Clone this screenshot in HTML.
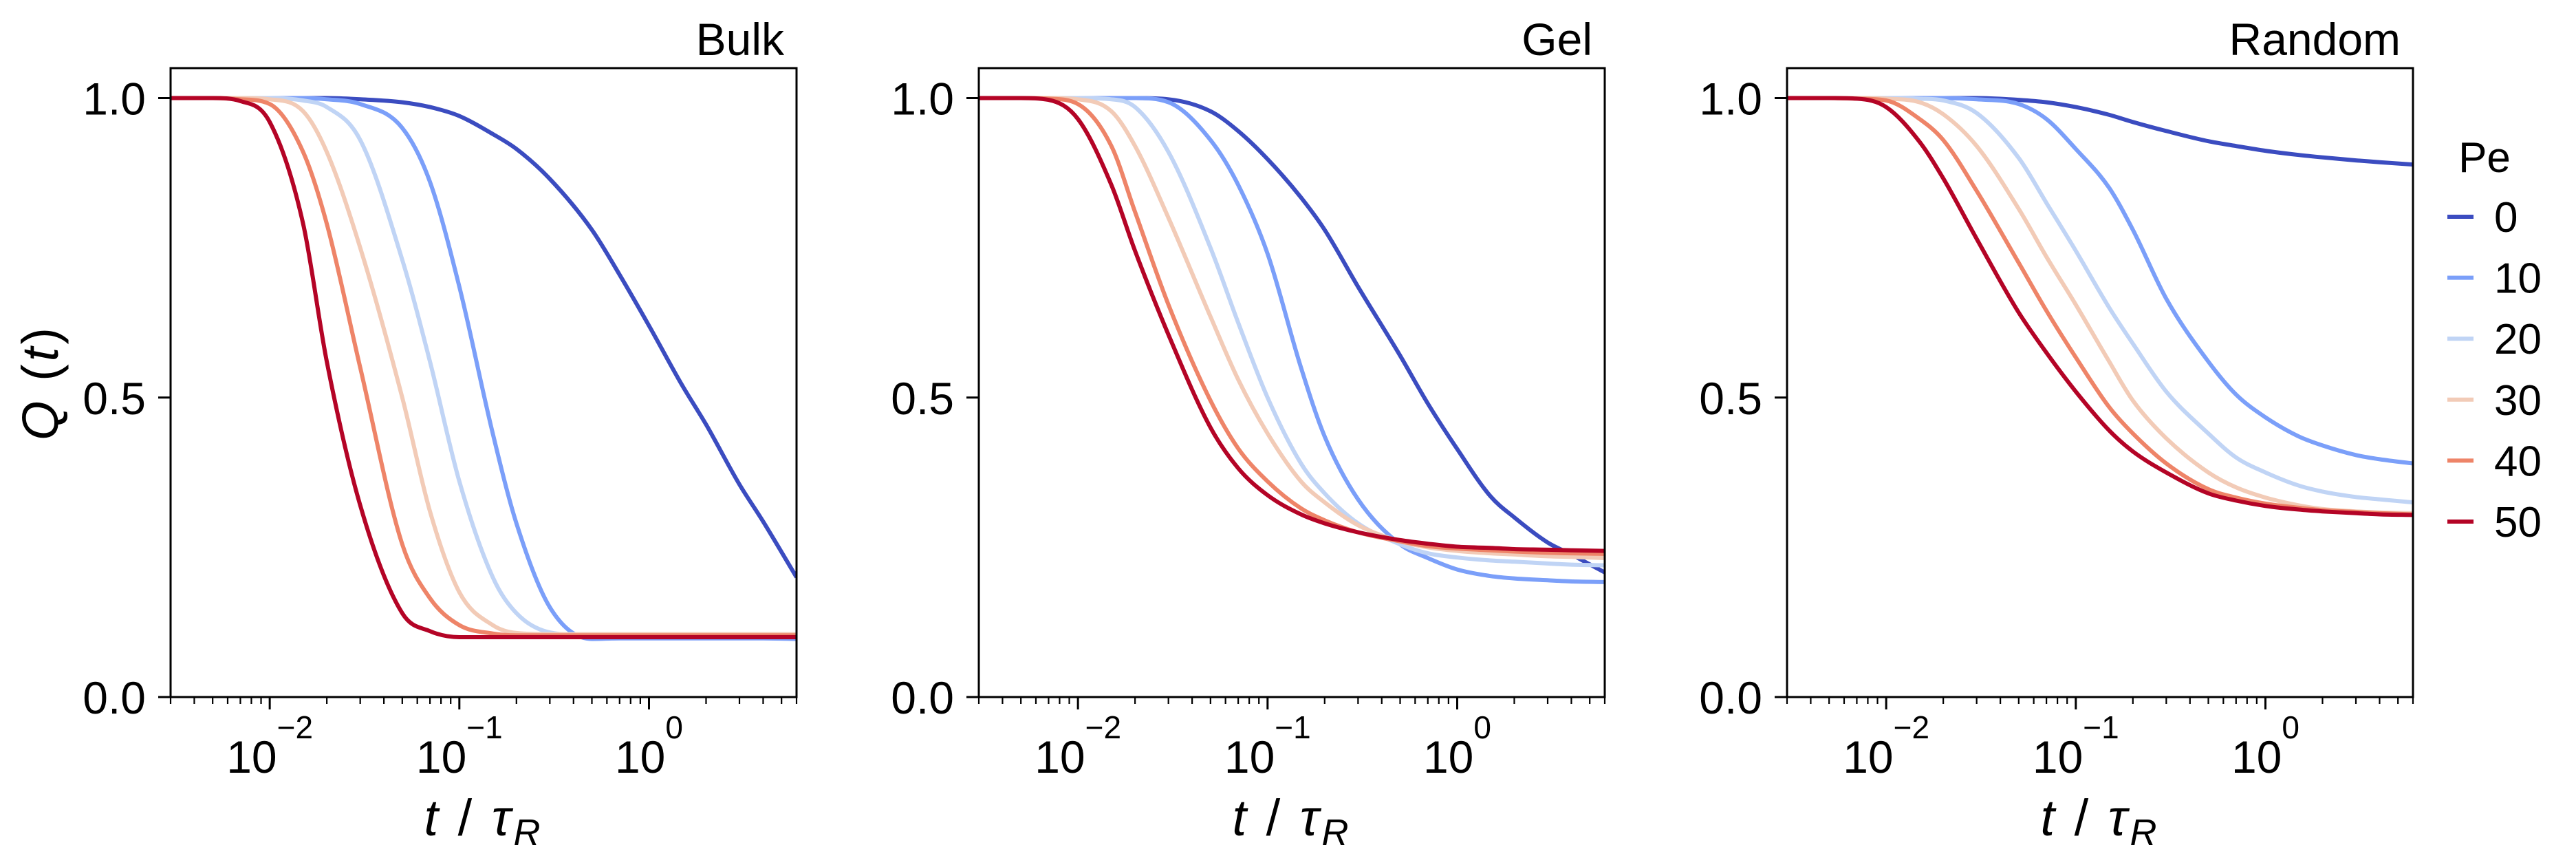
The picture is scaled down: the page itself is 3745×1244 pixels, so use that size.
<!DOCTYPE html>
<html><head><meta charset="utf-8">
<style>
html,body{margin:0;padding:0;background:#fff;}
svg{display:block;font-family:"Liberation Sans",Arial,sans-serif;}
</style></head>
<body>
<svg id="fig" width="3745" height="1244" viewBox="0 0 3745 1244" xmlns="http://www.w3.org/2000/svg"></svg>
<script>
const times = [0.003,0.005,0.007,0.01,0.015,0.02,0.03,0.05,0.07,0.1,0.15,0.2,0.3,0.5,0.7,1,1.5,2,3,4,6];
const peValues = ["0","10","20","30","40","50"];
const panelTitles = ["Bulk","Gel","Random"];
const yTicks = [0, 0.5, 1.0];
const yTickLabels = ["0.0","0.5","1.0"];
const xTickExps = [-2,-1,0];

const bulk0  = [1,1,1,1,1,1,0.998,0.993,0.985,0.97,0.94,0.915,0.865,0.78,0.705,0.62,0.52,0.455,0.355,0.293,0.20];
const bulk10 = [1,1,1,1,1,0.998,0.99,0.95,0.86,0.685,0.44,0.29,0.15,0.097,0.098,0.098,0.098,0.098,0.098,0.098,0.097];
const bulk20 = [1,1,1,1,0.996,0.985,0.93,0.73,0.56,0.36,0.2,0.14,0.108,0.103,0.103,0.103,0.103,0.103,0.103,0.103,0.103];
const bulk30 = [1,1,1,0.998,0.978,0.91,0.75,0.5,0.31,0.175,0.12,0.107,0.105,0.105,0.105,0.105,0.105,0.105,0.105,0.105,0.105];
const bulk40 = [1,1,0.998,0.99,0.91,0.79,0.55,0.255,0.165,0.12,0.106,0.103,0.103,0.103,0.103,0.103,0.103,0.103,0.103,0.103,0.103];
const bulk50 = [1,1,0.995,0.96,0.79,0.56,0.32,0.14,0.11,0.10,0.10,0.10,0.10,0.10,0.10,0.10,0.10,0.10,0.10,0.10,0.10];

const gel0  = [1,1,1,1,1,1,0.998,0.978,0.945,0.898,0.834,0.78,0.685,0.57,0.49,0.414,0.335,0.30,0.258,0.238,0.208];
const gel10 = [1,1,1,1,1,1,0.993,0.93,0.855,0.74,0.55,0.435,0.33,0.255,0.232,0.213,0.202,0.198,0.195,0.193,0.192];
const gel20 = [1,1,1,1,0.998,0.985,0.91,0.75,0.625,0.50,0.39,0.34,0.29,0.255,0.24,0.233,0.228,0.226,0.223,0.221,0.22];
const gel30 = [1,1,1,0.998,0.978,0.92,0.80,0.635,0.53,0.44,0.36,0.325,0.287,0.26,0.25,0.244,0.24,0.238,0.235,0.234,0.232];
const gel40 = [1,1,0.999,0.99,0.92,0.81,0.655,0.495,0.415,0.36,0.315,0.295,0.275,0.26,0.252,0.248,0.245,0.243,0.241,0.24,0.239];
const gel50 = [1,1,0.997,0.965,0.855,0.745,0.605,0.45,0.382,0.337,0.305,0.29,0.275,0.262,0.256,0.251,0.249,0.247,0.246,0.245,0.244];

const rand0  = [1,1,1,1,1,1,1,0.997,0.993,0.985,0.972,0.96,0.945,0.928,0.92,0.912,0.905,0.901,0.896,0.893,0.889];
const rand10 = [1,1,1,1,1,1,0.998,0.99,0.965,0.915,0.85,0.78,0.665,0.56,0.505,0.467,0.435,0.42,0.404,0.397,0.39];
const rand20 = [1,1,1,1,0.999,0.996,0.975,0.90,0.825,0.745,0.65,0.59,0.51,0.44,0.40,0.375,0.353,0.343,0.334,0.33,0.325];
const rand30 = [1,1,1,0.999,0.993,0.973,0.92,0.815,0.735,0.655,0.56,0.495,0.432,0.375,0.35,0.333,0.32,0.314,0.31,0.308,0.307];
const rand40 = [1,1,0.999,0.996,0.965,0.93,0.845,0.725,0.645,0.567,0.484,0.44,0.39,0.347,0.333,0.323,0.316,0.312,0.309,0.307,0.305];
const rand50 = [1,1,0.999,0.985,0.927,0.866,0.765,0.642,0.575,0.51,0.445,0.41,0.375,0.34,0.328,0.319,0.313,0.31,0.307,0.305,0.304];

const panelSeries = [
  [bulk0,bulk10,bulk20,bulk30,bulk40,bulk50],
  [gel0,gel10,gel20,gel30,gel40,gel50],
  [rand0,rand10,rand20,rand30,rand40,rand50]
];

const colors = ["#3b4cc0","#7b9ff9","#c0d4f5","#f2cbb7","#ee8468","#b40426"];
const NS = "http://www.w3.org/2000/svg";
const svg = document.getElementById("fig");
const panelLefts = [248, 1423, 2598];
const PW = 910, PT = 99, PB = 1013;
const XMIN = Math.log10(0.003), XMAX = Math.log10(6);
const YMIN = 0, YMAX = 1.05;

function mk(tag, attrs, parent){
  const e = document.createElementNS(NS, tag);
  for (const k in attrs) e.setAttribute(k, attrs[k]);
  (parent||svg).appendChild(e);
  return e;
}
function monoPath(pts){
  const n = pts.length;
  const dx=[],dy=[],m=[];
  for(let i=0;i<n-1;i++){dx.push(pts[i+1][0]-pts[i][0]);dy.push(pts[i+1][1]-pts[i][1]);m.push(dy[i]/dx[i]);}
  const t=[m[0]];
  for(let i=1;i<n-1;i++){ t.push(m[i-1]*m[i]<=0?0:(m[i-1]+m[i])/2); }
  t.push(m[n-2]);
  for(let i=0;i<n-1;i++){
    if(m[i]===0){t[i]=0;t[i+1]=0;continue;}
    const a=t[i]/m[i], b=t[i+1]/m[i], s=a*a+b*b;
    if(s>9){const k=3/Math.sqrt(s);t[i]=k*a*m[i];t[i+1]=k*b*m[i];}
  }
  let d="M"+pts[0][0].toFixed(1)+","+pts[0][1].toFixed(1);
  for(let i=0;i<n-1;i++){
    const h=dx[i]/3;
    d+=" C"+(pts[i][0]+h).toFixed(1)+","+(pts[i][1]+t[i]*h).toFixed(1)+" "+(pts[i+1][0]-h).toFixed(1)+","+(pts[i+1][1]-t[i+1]*h).toFixed(1)+" "+pts[i+1][0].toFixed(1)+","+pts[i+1][1].toFixed(1);
  }
  return d;
}

panelLefts.forEach((L, p) => {
  const g = mk("g", {});
  
  
  const xs = v => L + (Math.log10(v) - XMIN) / (XMAX - XMIN) * PW;
  const ys = v => PB - (v - YMIN) / (YMAX - YMIN) * (PB - PT);

  const defs = mk("defs", {}, g);
  const cp = mk("clipPath", {id: "clip" + p}, defs);
  mk("rect", {x: L, y: PT, width: PW, height: PB - PT}, cp);

  const lines = mk("g", {"clip-path": "url(#clip" + p + ")"}, g);
  panelSeries[p].forEach((series, s) => {
    const pts = series.map((v, i) => [xs(times[i]), ys(v)]);
    const path = mk("path", {d: monoPath(pts), fill: "none", stroke: colors[s], "stroke-width": 6, "stroke-linejoin": "round"}, lines);
    
    
  });

  const frame = mk("rect", {x: L, y: PT, width: PW, height: PB - PT, fill: "none", stroke: "#000", "stroke-width": 3}, g);
  
  

  yTicks.forEach((v, i) => {
    const y = ys(v);
    mk("line", {x1: L - 18, x2: L, y1: y, y2: y, stroke: "#000", "stroke-width": 3}, g);
    const tx = mk("text", {x: L - 36, y: y + 24, "font-size": 66, "text-anchor": "end"}, g);
    tx.textContent = yTickLabels[i];
    
    
  });
  for (let e = -3; e <= 0; e++) {
    for (let k = 1; k <= 9; k++) {
      const v = k * Math.pow(10, e);
      if (v < 0.003 || v > 6) continue;
      const x = xs(v);
      const major = k === 1;
      mk("line", {x1: x, x2: x, y1: PB, y2: PB + (major ? 18 : 10), stroke: "#000", "stroke-width": major ? 3 : 2.2}, g);
    }
  }
  xTickExps.forEach(e => {
    const x = xs(Math.pow(10, e));
    const tx = mk("text", {x: x, y: 1123, "font-size": 66, "text-anchor": "middle"}, g);
    
    
    const a = mk("tspan", {}, tx); a.textContent = "10";
    const b = mk("tspan", {dy: -50, "font-size": 46}, tx); b.textContent = e < 0 ? "\u2212" + (-e) : String(e);
  });
  const xl = mk("text", {x: L + PW / 2, y: 1214, "font-size": 74, "text-anchor": "middle", "letter-spacing": 4}, g);
  
  
  const t1 = mk("tspan", {"font-style": "italic"}, xl); t1.textContent = "t";
  const t2 = mk("tspan", {}, xl); t2.textContent = " / ";
  const t3 = mk("tspan", {"font-style": "italic"}, xl); t3.textContent = "\u03C4";
  const t4 = mk("tspan", {"font-style": "italic", "font-size": 54, dy: 14}, xl); t4.textContent = "R";
  const tt = mk("text", {x: L + PW - 18, y: 80, "font-size": 66, "text-anchor": "end"}, g);
  tt.textContent = panelTitles[p];
  
  
});

const yl = mk("text", {x: 0, y: 0, "font-size": 74, "text-anchor": "middle", "letter-spacing": 4, transform: "translate(84,556) rotate(-90)"});


const q1 = mk("tspan", {"font-style": "italic"}, yl); q1.textContent = "Q";
const q2 = mk("tspan", {}, yl); q2.textContent = " (";
const q3 = mk("tspan", {"font-style": "italic"}, yl); q3.textContent = "t";
const q4 = mk("tspan", {}, yl); q4.textContent = ")";

const lg = mk("g", {});


const lt = mk("text", {x: 3612, y: 250, "font-size": 62, "text-anchor": "middle"}, lg);
lt.textContent = "Pe";


peValues.forEach((pe, i) => {
  const y = 315 + i * 88.6;
  const e = mk("g", {}, lg);
  
  
  mk("line", {x1: 3558, x2: 3596, y1: y, y2: y, stroke: colors[i], "stroke-width": 6}, e);
  const tx = mk("text", {x: 3626, y: y + 22, "font-size": 62}, e);
  tx.textContent = pe;
});
</script>
</body></html>
